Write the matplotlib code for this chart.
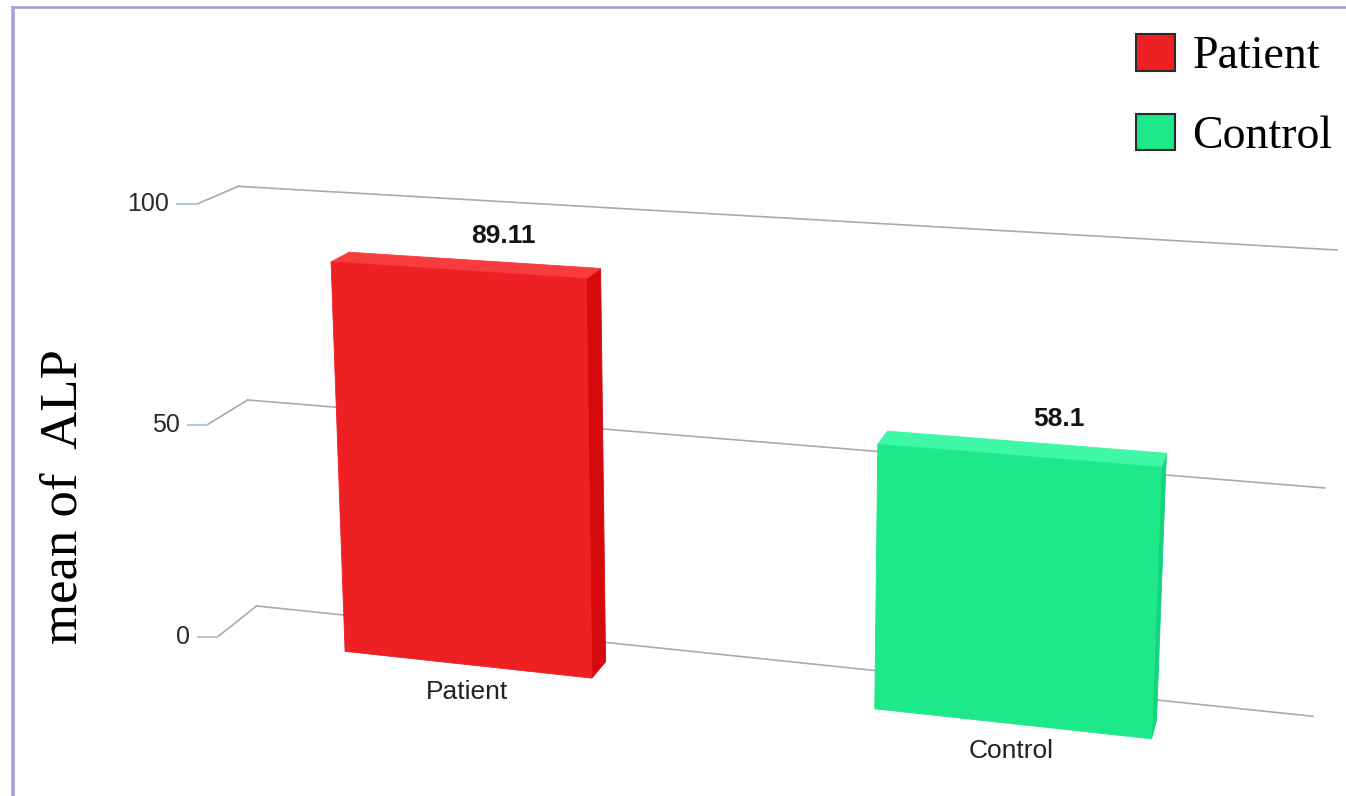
import numpy as np
import matplotlib
matplotlib.use('Agg')
import matplotlib.pyplot as plt
from matplotlib.patches import Polygon, Patch

categories = ['Patient', 'Control']
alp_means = [89.11, 58.1]
value_labels = ['89.11', '58.1']
y_ticks = [0, 50, 100]
y_max = 100.0

front_colors = ['#ee2024', '#1de98b']
top_colors = ['#f63c3f', '#3ef8a5']
side_colors = ['#d60a0d', '#16d47e']

SANS = ['Liberation Sans Narrow', 'Liberation Sans', 'DejaVu Sans']
SERIF = ['Liberation Serif', 'DejaVu Serif']

# perspective camera: (x as fraction of plot width, value / y_max, depth, 1) -> pixel
CAMERA = np.array([[949.424, -27.894, 48.420, 216.786],
                   [36.306, -440.668, -11.171, 637.453],
                   [-0.108554, -0.037342, 0.033569, 1.0]])
WALL_Z = 1.0      # back wall with the grid
COLUMN_Z = 0.47   # depth of each column


def project(x, y, z):
    x, y, z = np.broadcast_arrays(np.asarray(x, float), np.asarray(y, float),
                                  np.asarray(z, float))
    pts = np.stack([x.ravel(), y.ravel() / y_max, z.ravel(), np.ones(x.size)])
    q = CAMERA @ pts
    return (q[:2] / q[2]).T


fig = plt.figure(figsize=(13.46, 7.96), dpi=100)
ax = fig.add_axes([0, 0, 1, 1])
ax.set_xlim(0, 1346)
ax.set_ylim(796, 0)
ax.axis('off')

# page border
ax.plot([12, 1346], [7, 7], color='#9b9bd6', lw=1.8, solid_capstyle='butt')
ax.plot([13, 13], [6, 796], color='#a3a3da', lw=2.6, solid_capstyle='butt')

# grid on the back wall, side-wall links and ticks
for t in y_ticks:
    g = project([0, 1], [t, t], [WALL_Z, WALL_Z])
    ax.plot(g[:, 0], g[:, 1], color='#aaaaaa', lw=1.2, zorder=1)
    s = project([0, 0], [t, t], [0, WALL_Z])
    ax.plot(s[:, 0], s[:, 1], color='#aaaaaa', lw=1.2, zorder=1)
    px, py = s[0]
    ax.plot([px - 19, px], [py, py], color='#b4c8de', lw=1.5, zorder=1)
    ax.text(px - 27, py, str(t), ha='right', va='center', fontsize=18,
            family=SANS, color='#2a2a2a')

# columns
n = len(categories)
band = 1.0 / n
width = band * 0.6 * 0.8
for i, (cat, v) in enumerate(zip(categories, alp_means)):
    x0 = i * band + (band - width) / 2
    x1 = x0 + width
    side = project([x1, x1, x1, x1], [0, v, v, 0], [0, 0, COLUMN_Z, COLUMN_Z])
    top = project([x0, x1, x1, x0], [v, v, v, v], [0, 0, COLUMN_Z, COLUMN_Z])
    front = project([x0, x1, x1, x0], [0, 0, v, v], [0, 0, 0, 0])
    for poly, col in ((side, side_colors[i]), (top, top_colors[i]),
                      (front, front_colors[i])):
        ax.add_patch(Polygon(poly, closed=True, facecolor=col, edgecolor=col,
                             lw=0.6, zorder=3))
    bx, by = project((x0 + x1) / 2, 0, 0)[0]
    ax.text(bx, by + 27, cat, ha='center', va='center', fontsize=19,
            family=SANS, color='#222222')
    lx, ly = project(x0 + 0.62 * width, v, COLUMN_Z)[0]
    ax.text(lx, ly - 26, value_labels[i], ha='center', va='center',
            fontsize=19, fontweight='bold', family=SANS, color='#141414')

ax.text(64, 497, 'mean of  ALP', rotation=90, ha='center', va='center',
        fontsize=38, family=SERIF, color='#000000')

handles = [Patch(facecolor=c, edgecolor='#2b2b2b', linewidth=1.5, label=cat)
           for c, cat in zip(front_colors, categories)]
ax.legend(handles=handles, loc='upper left', bbox_to_anchor=(1136, 34),
          bbox_transform=ax.transData, frameon=False,
          prop={'family': SERIF, 'size': 33}, handlelength=0.85,
          handleheight=0.85, handletextpad=0.38, labelspacing=0.78,
          borderpad=0, borderaxespad=0)

fig.savefig('out.png', dpi=100)
